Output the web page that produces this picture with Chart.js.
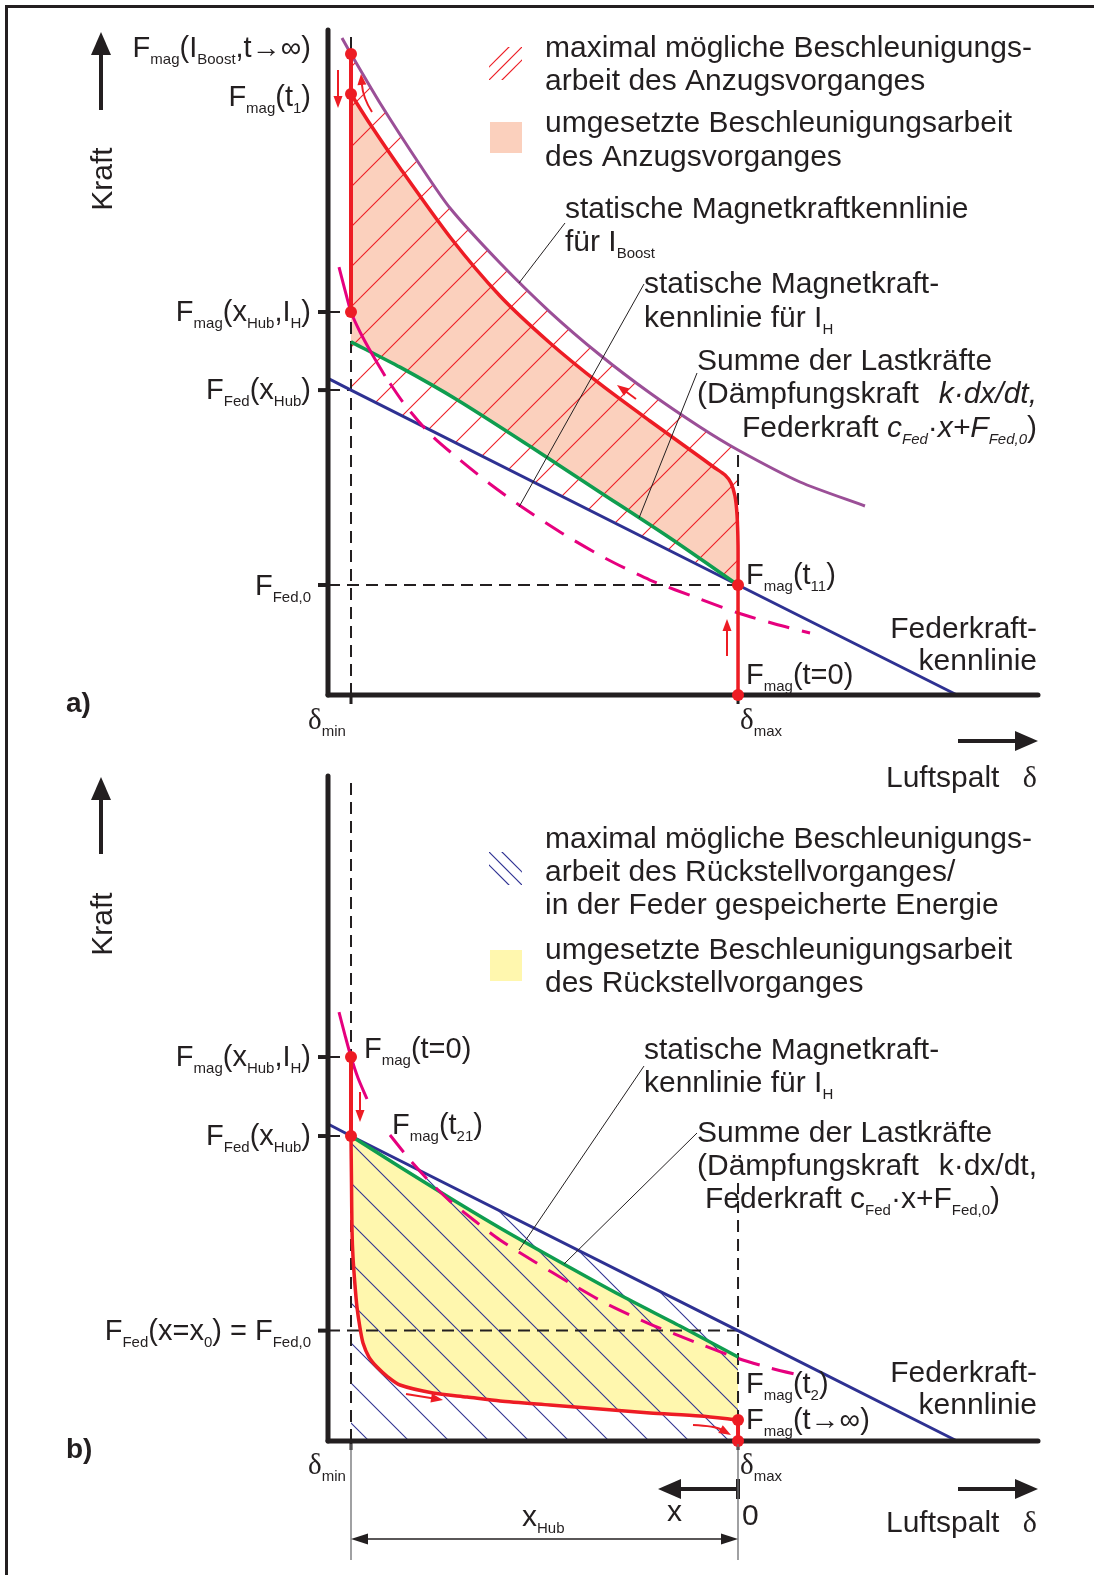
<!DOCTYPE html>
<html><head><meta charset="utf-8">
<script src="https://cdn.jsdelivr.net/npm/chart.js@4.4.1/dist/chart.umd.min.js"></script>
<style>
html,body{margin:0;padding:0;background:#fff;}
#page{position:relative;width:1094px;height:1575px;overflow:hidden;background:#fff;}
#frame{position:absolute;left:5px;top:5px;width:1200px;height:1700px;border-left:3.5px solid #231f20;border-top:3px solid #231f20;box-sizing:border-box;}
#ca{position:absolute;left:0;top:0;}
#cb{position:absolute;left:0;top:740px;}
</style></head><body>
<div id="page"><div id="frame"></div>
<canvas id="ca" width="1094" height="800"></canvas>
<canvas id="cb" width="1094" height="835"></canvas>
</div>
<script>
// ---------- data (x = air gap units 0..100, y = force units 0..100) ----------
const deltaMin = 3.24, deltaMax = 57.75;
const springX = [0, 3.24, 57.75, 88.6];
const springA = [47.6, 45.85, 16.54, 0];
const springB = [47.67, 45.86, 16.6, 0];

// chart a
const boostX = [1.97, 3.24, 7.32, 12.96, 17.18, 24.23, 31.27, 38.31, 45.35, 52.39, 57.75, 66.48, 75.63];
const boostY = [98.80, 96.39, 89.02, 79.70, 73.23, 64.96, 57.59, 51.13, 45.41, 40.30, 36.84, 32.03, 28.42];
const redAVertX = [3.24, 3.24];
const redAVertY = [96.39, 57.59];
const redAX = [3.24, 5.92, 10.14, 17.18, 24.23, 31.27, 38.31, 45.35, 52.39, 54.51, 55.92, 56.76, 57.32, 57.61, 57.75, 57.75, 57.75];
const redAY = [90.38, 85.86, 79.25, 68.87, 60.0, 52.93, 46.77, 41.20, 35.79, 34.14, 33.08, 31.88, 29.92, 27.07, 22.56, 16.54, 0];
const greenAX = [3.24, 10.14, 18.17, 28.45, 38.31, 48.17, 57.75];
const greenAY = [53.1, 49.3, 44.4, 37.4, 30.5, 23.6, 16.54];
const magAX = [1.55, 2.39, 3.24, 4.51, 6.20, 8.03, 10.85, 14.37, 18.59, 22.82, 27.32, 32.68, 39.01, 45.35, 52.39, 57.75, 62.96, 67.89];
const magAY = [64.36, 60.90, 57.59, 54.59, 51.28, 47.97, 43.61, 39.25, 35.34, 31.73, 28.27, 24.51, 20.60, 17.29, 14.44, 12.33, 10.68, 9.32];
const pointsAX = [3.24, 3.24, 3.24, 57.75, 57.75];
const pointsAY = [96.39, 90.38, 57.59, 16.54, 0];
const ticksA = [57.59, 45.85, 16.54];

// chart b
const redBVertX = [3.24, 3.24];
const redBVertY = [57.74, 45.86];
const redBX = [3.24, 3.31, 3.38, 3.52, 3.80, 4.08, 4.51, 4.93, 5.77, 6.90, 8.45, 10.14, 14.79, 19.58, 24.23, 31.27, 38.31, 45.35, 52.39, 57.75];
const redBY = [45.86, 38.80, 31.73, 27.67, 23.46, 20.15, 16.99, 14.74, 12.63, 11.13, 9.62, 8.42, 7.22, 6.62, 6.02, 5.41, 4.81, 4.21, 3.76, 3.16];
const redBEndX = [57.75, 57.75];
const redBEndY = [3.16, 0];
const greenBX = [3.24, 10.14, 17.18, 24.23, 32.68, 41.13, 49.58, 57.75];
const greenBY = [45.86, 41.20, 36.54, 32.03, 26.92, 21.95, 17.29, 12.63];
const magBX = [1.55, 2.39, 3.24, 4.23, 5.49, 7.04, 8.73, 11.55, 14.37, 17.18, 20.70, 24.23, 29.15, 34.08, 39.01, 45.35, 52.39, 57.61, 62.25, 67.46];
const magBY = [64.51, 61.05, 57.74, 54.59, 51.43, 48.57, 46.02, 42.26, 38.95, 36.09, 33.08, 30.23, 26.92, 23.76, 20.75, 17.59, 14.59, 12.48, 10.98, 9.62];
const pointsBX = [3.24, 3.24, 57.75, 57.75];
const pointsBY = [57.74, 45.86, 3.16, 0];
const ticksB = [57.74, 45.86, 16.6];
const dimTop = 38.8; // top of δmax guide in b

// ---------- helpers ----------
const INK = '#231f20', RED = '#ed1c24', PURPLE = '#9b4f97', MAGENTA = '#e6007e', GREEN = '#0f9d4f', NAVY = '#2e3192';
const SALMON = '#fbd0bd', YELLOW = '#fff7ae';
const SANS = '"Liberation Sans", Arial, sans-serif';
const SERIF = '"Liberation Serif", "Times New Roman", serif';
const xy = (xs, ys) => xs.map((x, i) => ({x: x, y: ys[i]}));
const inRange = p => p.x >= deltaMin - 1e-6 && p.x <= deltaMax + 1e-6;

function lineDs(label, data, color, width, order, extra) {
  return Object.assign({label, data, borderColor: color, borderWidth: width, pointRadius: 0,
    fill: false, tension: 0.25, clip: false, order: order, borderCapStyle: 'butt'}, extra || {});
}
function shapeDs(label, data, bg, order) {
  return {label, data, borderWidth: 0, borderColor: 'rgba(0,0,0,0)', backgroundColor: bg,
    fill: 'shape', pointRadius: 0, tension: 0, clip: false, order: order};
}
function guideDs(label, data) {
  return lineDs(label, data, INK, 2, 15, {borderDash: [12, 7], tension: 0});
}
function hatchPattern(ctx, color, dir, phase) {
  const c = document.createElement('canvas'); c.width = 40; c.height = 40;
  const g = c.getContext('2d'); g.strokeStyle = color; g.lineWidth = 1.1;
  for (let k = -2; k <= 3; k++) {
    const cc = phase + 40 * k;
    g.beginPath();
    if (dir > 0) { g.moveTo(cc + 5, -5); g.lineTo(cc - 45, 45); }
    else { g.moveTo(-5, cc - 5); g.lineTo(45, cc + 45); }
    g.stroke();
  }
  return ctx.createPattern(c, 'repeat');
}
function fontOf(f, size) {
  let sz = size;
  if (f.includes('s')) sz = 15;
  return (f.includes('i') ? 'italic ' : '') + (f.includes('b') ? 'bold ' : '') + sz + 'px ' + (f.includes('g') ? SERIF : SANS);
}
function rich(ctx, x, y, segs, align, size) {
  size = size || 29;
  let w = 0;
  segs.forEach(s => { ctx.font = fontOf(s[1] || '', size); w += ctx.measureText(s[0]).width; });
  let cx = align === 'right' ? x - w : align === 'center' ? x - w / 2 : x;
  ctx.textAlign = 'left'; ctx.textBaseline = 'alphabetic'; ctx.fillStyle = INK;
  segs.forEach(s => {
    const f = s[1] || '';
    ctx.font = fontOf(f, size);
    ctx.fillText(s[0], cx, y + (f.includes('s') ? 7 : 0));
    cx += ctx.measureText(s[0]).width;
  });
}
function head(ctx, x1, y1, x2, y2, len, half, color) {
  const a = Math.atan2(y2 - y1, x2 - x1);
  ctx.fillStyle = color; ctx.beginPath();
  ctx.moveTo(x2, y2);
  ctx.lineTo(x2 - len * Math.cos(a) + half * Math.sin(a), y2 - len * Math.sin(a) - half * Math.cos(a));
  ctx.lineTo(x2 - len * Math.cos(a) - half * Math.sin(a), y2 - len * Math.sin(a) + half * Math.cos(a));
  ctx.closePath(); ctx.fill();
}
function arrow(ctx, pts, lw, len, half, color, quad) {
  ctx.strokeStyle = color; ctx.lineWidth = lw; ctx.lineCap = 'butt';
  const n = pts.length;
  const [tx, ty] = pts[n - 1], [px, py] = pts[n - 2];
  const a = Math.atan2(ty - py, tx - px);
  const ex = tx - (len - 1) * Math.cos(a), ey = ty - (len - 1) * Math.sin(a);
  ctx.beginPath(); ctx.moveTo(pts[0][0], pts[0][1]);
  if (quad && n === 3) ctx.quadraticCurveTo(pts[1][0], pts[1][1], ex, ey);
  else { for (let i = 1; i < n - 1; i++) ctx.lineTo(pts[i][0], pts[i][1]); ctx.lineTo(ex, ey); }
  ctx.stroke();
  head(ctx, px, py, tx, ty, len, half, color);
}
function seg(ctx, x1, y1, x2, y2, lw, color) {
  ctx.strokeStyle = color; ctx.lineWidth = lw; ctx.beginPath(); ctx.moveTo(x1, y1); ctx.lineTo(x2, y2); ctx.stroke();
}
function drawAxes(chart, ticks) {
  const ctx = chart.ctx, xs = chart.scales.x, ys = chart.scales.y;
  const x0 = xs.getPixelForValue(0), y0 = ys.getPixelForValue(0);
  ctx.save();
  ctx.lineCap = 'round';
  seg(ctx, x0, ys.getPixelForValue(100), x0, y0, 5, INK);
  seg(ctx, x0, y0, xs.getPixelForValue(100), y0, 5, INK);
  ctx.lineCap = 'butt';
  ticks.forEach(t => seg(ctx, x0 - 10, ys.getPixelForValue(t), x0, ys.getPixelForValue(t), 4, INK));
  [deltaMin, deltaMax].forEach(d => seg(ctx, xs.getPixelForValue(d), y0, xs.getPixelForValue(d), y0 + 9, 3, INK));
  ctx.restore();
}
function mkOptions(pad) {
  return {
    responsive: false, animation: false, devicePixelRatio: 1, events: [],
    layout: {padding: pad},
    scales: {x: {type: 'linear', min: 0, max: 100, display: false}, y: {type: 'linear', min: 0, max: 100, display: false}},
    plugins: {legend: {display: false}, tooltip: {enabled: false}}
  };
}
function drawTexts(ctx, list) {
  list.forEach(t => rich(ctx, t[0], t[1], t[3], t[2], t[4] || 29));
}

// ---------- chart a ----------
const ctxA = document.getElementById('ca').getContext('2d');
const hatchA = hatchPattern(ctxA, RED, 1, 18);
const salmonPoly = xy(redAX.slice(0, -1), redAY.slice(0, -1)).concat(xy(greenAX, greenAY).reverse());
const hatchAPoly = xy(boostX, boostY).filter(inRange).concat(xy(springX, springA).filter(inRange).reverse());
const textA = [
  [311, 57, 'right', [['F'], ['mag', 's'], ['(I'], ['Boost', 's'], [',t→∞)']]],
  [311, 106, 'right', [['F'], ['mag', 's'], ['(t'], ['1', 's'], [')']]],
  [311, 321, 'right', [['F'], ['mag', 's'], ['(x'], ['Hub', 's'], [',I'], ['H', 's'], [')']]],
  [311, 399, 'right', [['F'], ['Fed', 's'], ['(x'], ['Hub', 's'], [')']]],
  [311, 595, 'right', [['F'], ['Fed,0', 's']]],
  [308, 729, 'left', [['δ', 'g'], ['min', 's']]],
  [740, 729, 'left', [['δ', 'g'], ['max', 's']]],
  [746, 584, 'left', [['F'], ['mag', 's'], ['(t'], ['11', 's'], [')']]],
  [746, 684, 'left', [['F'], ['mag', 's'], ['(t=0)']]],
  [1037, 638, 'right', [['Federkraft-']], 30],
  [1037, 670, 'right', [['kennlinie']], 30],
  [545, 57, 'left', [['maximal mögliche Beschleunigungs-']], 30],
  [545, 90, 'left', [['arbeit des Anzugsvorganges']], 30],
  [545, 132, 'left', [['umgesetzte Beschleunigungsarbeit']], 30],
  [545, 166, 'left', [['des Anzugsvorganges']], 30],
  [565, 218, 'left', [['statische Magnetkraftkennlinie']], 30],
  [565, 251, 'left', [['für I'], ['Boost', 's']], 30],
  [644, 293, 'left', [['statische Magnetkraft-']], 30],
  [644, 327, 'left', [['kennlinie für I'], ['H', 's']], 30],
  [697, 370, 'left', [['Summe der Lastkräfte']], 30],
  [697, 403, 'left', [['(Dämpfungskraft']], 30],
  [1037, 403, 'right', [['k·dx/dt,', 'i']], 30],
  [1037, 437, 'right', [['Federkraft '], ['c', 'i'], ['Fed', 'si'], ['·'], ['x+F', 'i'], ['Fed,0', 'si'], [')']], 30],
  [66, 712, 'left', [['a)', 'b']], 28],
  [886, 787, 'left', [['Luftspalt']], 30],
  [1037, 787, 'right', [['δ', 'g']], 30]
];
const decoA = {
  id: 'decoA',
  beforeDatasetDraw(chart, args) {
    if (chart.data.datasets[args.index].label === 'points') drawAxes(chart, ticksA);
  },
  afterDraw(chart) {
    const ctx = chart.ctx; ctx.save();
    ctx.save(); ctx.beginPath(); ctx.rect(489, 47, 33, 33); ctx.clip();
    [556, 569, 582].forEach(c => seg(ctx, c - 40, 40, c - 90, 90, 1.2, RED));
    ctx.restore();
    ctx.fillStyle = SALMON; ctx.fillRect(490, 122, 32, 31);
    [[565, 223, 519, 283], [644, 284, 519, 507], [697, 373, 639, 518]].forEach(l => seg(ctx, l[0], l[1], l[2], l[3], 1, INK));
    arrow(ctx, [[101, 110], [101, 32]], 4, 23, 10, INK);
    arrow(ctx, [[958, 741], [1038, 741]], 4, 23, 10, INK);
    arrow(ctx, [[338, 70], [338, 108]], 2, 12, 4.5, RED);
    arrow(ctx, [[372, 112], [363, 98], [361, 74]], 2, 11, 4.5, RED, true);
    arrow(ctx, [[636, 399], [617, 385]], 2, 12, 4.5, RED);
    arrow(ctx, [[727, 656], [727, 619]], 2, 12, 4.5, RED);
    drawTexts(ctx, textA);
    ctx.save(); ctx.translate(112, 179); ctx.rotate(-Math.PI / 2);
    ctx.font = '30px ' + SANS; ctx.textAlign = 'center'; ctx.fillStyle = INK; ctx.fillText('Kraft', 0, 0);
    ctx.restore();
    ctx.restore();
  }
};
new Chart(ctxA, {
  type: 'line',
  data: {datasets: [
    lineDs('points', xy(pointsAX, pointsAY), RED, 0, 0, {showLine: false, pointRadius: 6, pointBackgroundColor: RED, pointBorderWidth: 0}),
    lineDs('redVert', xy(redAVertX, redAVertY), RED, 4, 2, {tension: 0}),
    lineDs('red', xy(redAX, redAY), RED, 3.5, 2),
    lineDs('boost', xy(boostX, boostY), PURPLE, 3, 4),
    lineDs('magSolid', xy(magAX.slice(0, 6), magAY.slice(0, 6)), MAGENTA, 3, 5),
    lineDs('magDash', xy(magAX.slice(5), magAY.slice(5)), MAGENTA, 3, 5, {borderDash: [22, 13], borderDashOffset: 26}),
    lineDs('green', xy(greenAX, greenAY), GREEN, 3.5, 6),
    lineDs('spring', xy(springX, springA), NAVY, 3, 7, {tension: 0}),
    guideDs('gMin', xy([deltaMin, deltaMin], [0, 100])),
    guideDs('gMax', xy([deltaMax, deltaMax], [0, boostY[10]])),
    guideDs('gFed0', xy([0, deltaMax], [springA[2], springA[2]])),
    guideDs('gT1', xy([0, deltaMin], [ticksA[0], ticksA[0]])),
    guideDs('gT2', xy([0, deltaMin], [ticksA[1], ticksA[1]])),
    shapeDs('hatch', hatchAPoly, hatchA, 19),
    shapeDs('salmon', salmonPoly, SALMON, 20)
  ]},
  options: mkOptions({left: 328, right: 56, top: 30, bottom: 105}),
  plugins: [decoA]
});

// ---------- chart b ----------
const OB = 740;
const ctxB = document.getElementById('cb').getContext('2d');
const hatchB = hatchPattern(ctxB, NAVY, -1, 12);
const yellowPoly = xy(redBX, redBY).concat(xy(greenBX, greenBY).reverse());
const hatchBPoly = [{x: deltaMin, y: 0}].concat(xy(springX, springB).filter(inRange)).concat([{x: deltaMax, y: 0}]);
const textB = [
  [311, 1066, 'right', [['F'], ['mag', 's'], ['(x'], ['Hub', 's'], [',I'], ['H', 's'], [')']]],
  [311, 1145, 'right', [['F'], ['Fed', 's'], ['(x'], ['Hub', 's'], [')']]],
  [311, 1340, 'right', [['F'], ['Fed', 's'], ['(x=x'], ['0', 's'], [') = F'], ['Fed,0', 's']]],
  [364, 1058, 'left', [['F'], ['mag', 's'], ['(t=0)']]],
  [392, 1134, 'left', [['F'], ['mag', 's'], ['(t'], ['21', 's'], [')']]],
  [746, 1393, 'left', [['F'], ['mag', 's'], ['(t'], ['2', 's'], [')']]],
  [746, 1429, 'left', [['F'], ['mag', 's'], ['(t→∞)']]],
  [1037, 1382, 'right', [['Federkraft-']], 30],
  [1037, 1414, 'right', [['kennlinie']], 30],
  [545, 848, 'left', [['maximal mögliche Beschleunigungs-']], 30],
  [545, 881, 'left', [['arbeit des Rückstellvorganges/']], 30],
  [545, 914, 'left', [['in der Feder gespeicherte Energie']], 30],
  [545, 959, 'left', [['umgesetzte Beschleunigungsarbeit']], 30],
  [545, 992, 'left', [['des Rückstellvorganges']], 30],
  [644, 1059, 'left', [['statische Magnetkraft-']], 30],
  [644, 1092, 'left', [['kennlinie für I'], ['H', 's']], 30],
  [697, 1142, 'left', [['Summe der Lastkräfte']], 30],
  [697, 1175, 'left', [['(Dämpfungskraft']], 30],
  [1037, 1175, 'right', [['k·dx/dt,']], 30],
  [705, 1208, 'left', [['Federkraft c'], ['Fed', 's'], ['·x+F'], ['Fed,0', 's'], [')']], 30],
  [66, 1458, 'left', [['b)', 'b']], 28],
  [308, 1474, 'left', [['δ', 'g'], ['min', 's']]],
  [740, 1474, 'left', [['δ', 'g'], ['max', 's']]],
  [667, 1521, 'left', [['x']], 30],
  [742, 1525, 'left', [['0']], 30],
  [886, 1532, 'left', [['Luftspalt']], 30],
  [1037, 1532, 'right', [['δ', 'g']], 30],
  [522, 1526, 'left', [['x'], ['Hub', 's']], 30]
];
const decoB = {
  id: 'decoB',
  beforeDatasetDraw(chart, args) {
    if (chart.data.datasets[args.index].label === 'points') drawAxes(chart, ticksB);
  },
  afterDraw(chart) {
    const ctx = chart.ctx; ctx.save(); ctx.translate(0, -OB);
    ctx.save(); ctx.beginPath(); ctx.rect(489, 852, 33, 33); ctx.clip();
    [350, 363, 376].forEach(c => seg(ctx, 480, 480 + c, 530, 530 + c, 1.2, NAVY));
    ctx.restore();
    ctx.fillStyle = YELLOW; ctx.fillRect(490, 950, 32, 31);
    [[644, 1066, 519, 1250], [697, 1133, 564, 1264]].forEach(l => seg(ctx, l[0], l[1], l[2], l[3], 1, INK));
    arrow(ctx, [[101, 854], [101, 777]], 4, 23, 10, INK);
    arrow(ctx, [[958, 1489], [1038, 1489]], 4, 23, 10, INK);
    arrow(ctx, [[738, 1489], [658, 1489]], 4, 23, 10, INK);
    seg(ctx, 738, 1479, 738, 1499, 4, INK);
    seg(ctx, 351, 1444, 351, 1560, 1.3, '#6d6e71');
    seg(ctx, 738, 1444, 738, 1560, 1.3, '#6d6e71');
    seg(ctx, 360, 1539, 730, 1539, 1.3, INK);
    head(ctx, 380, 1539, 351, 1539, 17, 5.5, INK);
    head(ctx, 700, 1539, 738, 1539, 17, 5.5, INK);
    arrow(ctx, [[360, 1092], [360, 1122]], 2, 12, 4.5, RED);
    arrow(ctx, [[406, 1394], [425, 1397], [443, 1400]], 2, 12, 4.5, RED, true);
    arrow(ctx, [[693, 1425], [715, 1426], [731, 1435]], 2, 12, 4.5, RED, true);
    drawTexts(ctx, textB);
    ctx.save(); ctx.translate(112, 924); ctx.rotate(-Math.PI / 2);
    ctx.font = '30px ' + SANS; ctx.textAlign = 'center'; ctx.fillStyle = INK; ctx.fillText('Kraft', 0, 0);
    ctx.restore();
    ctx.restore();
  }
};
new Chart(ctxB, {
  type: 'line',
  data: {datasets: [
    lineDs('points', xy(pointsBX, pointsBY), RED, 0, 0, {showLine: false, pointRadius: 6, pointBackgroundColor: RED, pointBorderWidth: 0}),
    lineDs('redVert', xy(redBVertX, redBVertY), RED, 4, 2, {tension: 0}),
    lineDs('red', xy(redBX, redBY), RED, 3.5, 2),
    lineDs('redEnd', xy(redBEndX, redBEndY), RED, 4, 2, {tension: 0}),
    lineDs('magSolid', xy(magBX.slice(0, 5), magBY.slice(0, 5)), MAGENTA, 3, 5),
    lineDs('magDash', xy(magBX.slice(6), magBY.slice(6)), MAGENTA, 3, 5, {borderDash: [22, 13]}),
    lineDs('green', xy(greenBX, greenBY), GREEN, 3.5, 6),
    lineDs('spring', xy(springX, springB), NAVY, 3, 7, {tension: 0}),
    guideDs('gMin', xy([deltaMin, deltaMin], [0, 100])),
    guideDs('gMax', xy([deltaMax, deltaMax], [0, dimTop])),
    guideDs('gFed0', xy([0, deltaMax], [springB[2], springB[2]])),
    guideDs('gT1', xy([0, deltaMin], [ticksB[0], ticksB[0]])),
    guideDs('gT2', xy([0, deltaMin], [ticksB[1], ticksB[1]])),
    shapeDs('hatch', hatchBPoly, hatchB, 19),
    shapeDs('yellow', yellowPoly, YELLOW, 20)
  ]},
  options: mkOptions({left: 328, right: 56, top: 36, bottom: 134}),
  plugins: [decoB]
});
</script></body></html>
